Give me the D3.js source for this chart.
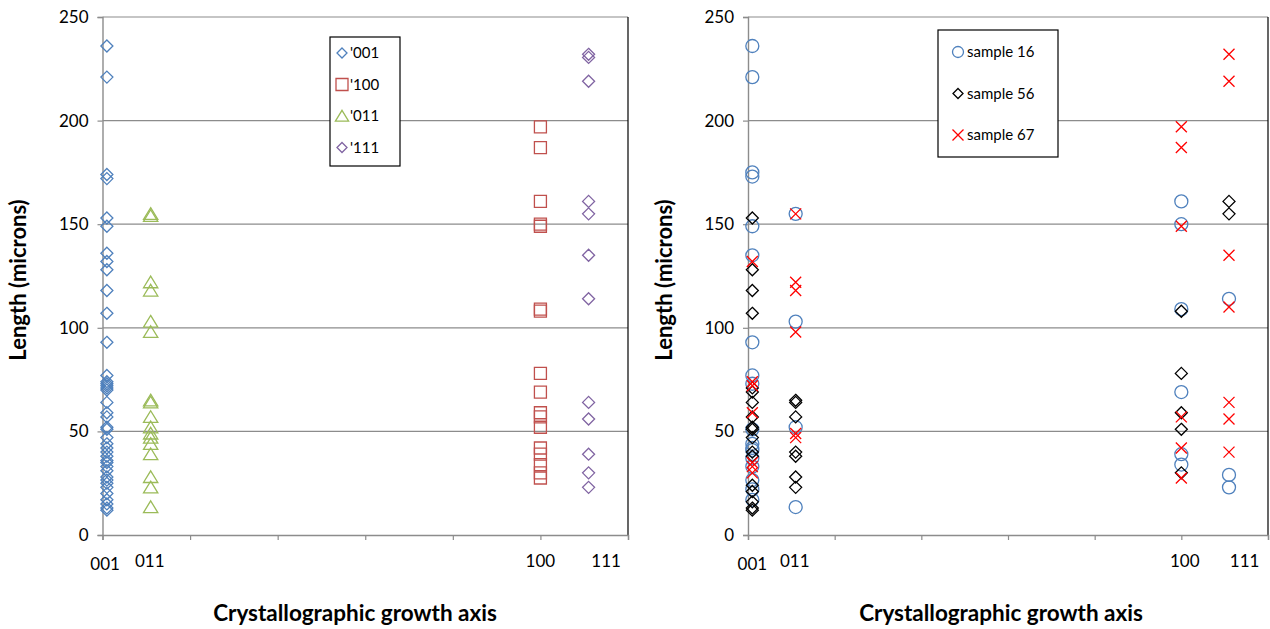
<!DOCTYPE html>
<html>
<head>
<meta charset="utf-8">
<script src="https://cdn.jsdelivr.net/npm/d3@7"></script>
<style>
  html, body { margin: 0; padding: 0; background: #fff; }
  svg { display: block; }
  text { font-family: "Lato", "Liberation Sans", sans-serif; fill: #000; }
</style>
</head>
<body>
<svg id="chart" width="1270" height="629"></svg>
<script>
// ---- Left panel: lengths grouped by growth axis ----
const len001 = [236, 221, 174, 172, 153, 149, 136, 132, 128, 118, 107, 93, 77, 74, 73, 72, 71, 70, 64, 59, 57,
                52, 51, 47, 44, 42, 40, 38, 36, 35, 33, 31, 28, 26.5, 25, 23, 20, 17, 15, 13, 12];
const len100 = [197, 187, 161, 150, 149, 109, 108, 78, 69, 59, 57, 52, 42, 39, 34, 30, 27.5];
const len011 = [155, 154, 122, 118, 103, 98, 65, 64, 57, 52, 49, 47, 44, 39, 28, 23, 13.5];
const len111 = [232, 230.5, 219, 161, 155, 135, 114, 64, 56, 39, 30, 23];

// ---- Right panel: lengths grouped by sample, keyed by growth axis ----
const sample16 = { "001": [236, 221, 175, 173, 149, 135, 93, 77, 73, 51, 44, 42, 41, 37, 33, 26.5, 22, 17],
                   "011": [155, 103, 52, 13.5],
                   "100": [161, 150, 109, 69, 39, 34],
                   "111": [114, 29, 23] };
const sample56 = { "001": [153, 128, 118, 107, 71, 69, 64, 57, 52, 51, 47, 40, 38, 24, 21, 16, 13, 12],
                   "011": [65, 64, 57, 40, 38, 28, 23],
                   "100": [108, 78, 59, 51, 30],
                   "111": [161, 155] };
const sample67 = { "001": [132, 74, 72, 59, 35, 33, 30],
                   "011": [155, 122, 118, 98, 49, 47],
                   "100": [197, 187, 149, 57, 42, 27.5],
                   "111": [232, 219, 135, 110, 64, 56, 40] };

const axisNames = ["001", "011", "100", "111"];
const yTicks = [0, 50, 100, 150, 200, 250];
const legendLeft = ["'001", "'100", "'011", "'111"];
const legendRight = ["sample 16", "sample 56", "sample 67"];

// x position of each growth-axis column on the numeric x scale
const colPos = { "001": 0.05, "011": 0.55, "100": 5.0, "111": 5.55 };
// where the category labels sit under each panel
const labelPosLeft = { "001": 0.03, "011": 0.54, "100": 5.0, "111": 5.75 };
const labelPosRight = { "001": 0.05, "011": 0.54, "100": 5.04, "111": 5.73 };

const svg = d3.select("#chart");

// marker shapes
const shapes = {
  diamond: s => `M0,${-s}L${s},0L0,${s}L${-s},0Z`,
  square: s => `M${-s},${-s}H${s}V${s}H${-s}Z`,
  triangle: s => `M0,${-s * 0.95}L${s * 1.1},${s * 0.85}L${-s * 1.1},${s * 0.85}Z`,
  circle: s => `M${s},0A${s},${s} 0 1,1 ${-s},0A${s},${s} 0 1,1 ${s},0Z`,
  cross: s => `M${-s},${-s}L${s},${s}M${-s},${s}L${s},${-s}`
};

function drawPanel(opt) {
  const x = d3.scaleLinear().domain([0, 6]).range([opt.left, opt.right]);
  const y = d3.scaleLinear().domain([0, 250]).range([535, 17]);
  const g = svg.append("g");

  // horizontal grid lines
  g.append("g")
    .selectAll("line").data(yTicks.filter(t => t > 0)).join("line")
    .attr("x1", opt.left).attr("x2", opt.right)
    .attr("y1", d => y(d)).attr("y2", d => y(d))
    .attr("stroke", "#8c8c8c").attr("stroke-width", 1.2);

  // right frame edge
  g.append("line")
    .attr("x1", opt.right).attr("x2", opt.right)
    .attr("y1", y(250)).attr("y2", y(0))
    .attr("stroke", "#000").attr("stroke-width", 1.2);

  // y axis
  const yAxis = d3.axisLeft(y).tickValues(yTicks).tickSize(5).tickPadding(9);
  const ya = g.append("g").attr("transform", `translate(${opt.left},0)`).call(yAxis);
  ya.select(".domain").attr("stroke", "#8c8c8c").attr("stroke-width", 1.4);
  ya.selectAll(".tick line").attr("stroke", "#8c8c8c").attr("stroke-width", 1.2);
  ya.selectAll(".tick text").attr("font-size", 17).attr("font-family", "Lato, sans-serif").attr("fill", "#000");

  // x axis (unlabelled ticks; category names are placed separately)
  const xAxis = d3.axisBottom(x).tickValues(d3.range(0, 7)).tickSize(5).tickFormat("");
  const xa = g.append("g").attr("transform", `translate(0,${y(0)})`).call(xAxis);
  xa.select(".domain").attr("stroke", "#8c8c8c").attr("stroke-width", 1.4);
  xa.selectAll(".tick line").attr("stroke", "#8c8c8c").attr("stroke-width", 1.2);

  axisNames.forEach(name => {
    g.append("text")
      .attr("x", x(opt.labelPos[name]))
      .attr("y", name === "001" ? 570 : 567)
      .attr("text-anchor", "middle")
      .attr("font-size", 17)
      .text(name);
  });

  // axis titles
  g.append("text")
    .attr("x", opt.titleX).attr("y", 621)
    .attr("text-anchor", "middle")
    .attr("font-size", 22.5).attr("font-weight", "bold")
    .text("Crystallographic growth axis");
  g.append("text")
    .attr("transform", `translate(${opt.ytitleX},280) rotate(-90)`)
    .attr("text-anchor", "middle")
    .attr("font-size", 22).attr("font-weight", "bold")
    .text("Length (microns)");

  // series markers
  opt.series.forEach(s => {
    g.append("g").selectAll("path").data(s.points).join("path")
      .attr("transform", d => `translate(${x(colPos[d.axis])},${y(d.value)})`)
      .attr("d", shapes[s.shape](s.size))
      .attr("fill", "none")
      .attr("stroke", s.color)
      .attr("stroke-width", s.width);
  });

  // legend
  const lg = g.append("g");
  lg.append("rect")
    .attr("x", opt.legend.x).attr("y", opt.legend.y)
    .attr("width", opt.legend.w).attr("height", opt.legend.h)
    .attr("fill", "#fff").attr("stroke", "#000").attr("stroke-width", 1.2);
  opt.series.forEach((s, i) => {
    const cy = opt.legend.y + opt.legend.first + i * opt.legend.step;
    lg.append("path")
      .attr("transform", `translate(${opt.legend.x + opt.legend.mx},${cy})`)
      .attr("d", shapes[s.shape](s.legendSize))
      .attr("fill", "none").attr("stroke", s.color).attr("stroke-width", s.width);
    lg.append("text")
      .attr("x", opt.legend.x + opt.legend.tx).attr("y", cy)
      .attr("dy", "0.36em")
      .attr("font-size", 15)
      .text(s.name);
  });
}

const pts = (axis, arr) => arr.map(v => ({ axis, value: v }));
const fromSample = obj => axisNames.flatMap(a => pts(a, obj[a] || []));

drawPanel({
  left: 102.5, right: 628, titleX: 355, ytitleX: 26,
  labelPos: labelPosLeft,
  series: [
    { name: legendLeft[0], points: pts("001", len001), shape: "diamond", size: 6, legendSize: 5, color: "#4f81bd", width: 1.3 },
    { name: legendLeft[1], points: pts("100", len100), shape: "square", size: 6, legendSize: 6, color: "#c0504d", width: 1.3 },
    { name: legendLeft[2], points: pts("011", len011), shape: "triangle", size: 6.5, legendSize: 6, color: "#9bbb59", width: 1.3 },
    { name: legendLeft[3], points: pts("111", len111), shape: "diamond", size: 6, legendSize: 5, color: "#8064a2", width: 1.3 }
  ],
  legend: { x: 330, y: 37, w: 70, h: 129, first: 16, step: 31.5, mx: 12, tx: 20 }
});

drawPanel({
  left: 748, right: 1268, titleX: 1001, ytitleX: 672,
  labelPos: labelPosRight,
  series: [
    { name: legendRight[0], points: fromSample(sample16), shape: "circle", size: 6.5, legendSize: 5.5, color: "#4f81bd", width: 1.3 },
    { name: legendRight[1], points: fromSample(sample56), shape: "diamond", size: 6, legendSize: 5, color: "#000", width: 1.3 },
    { name: legendRight[2], points: fromSample(sample67), shape: "cross", size: 5.5, legendSize: 5.5, color: "#ff0000", width: 1.3 }
  ],
  legend: { x: 938, y: 30, w: 120, h: 127, first: 22, step: 41.5, mx: 20, tx: 29 }
});
</script>
</body>
</html>
